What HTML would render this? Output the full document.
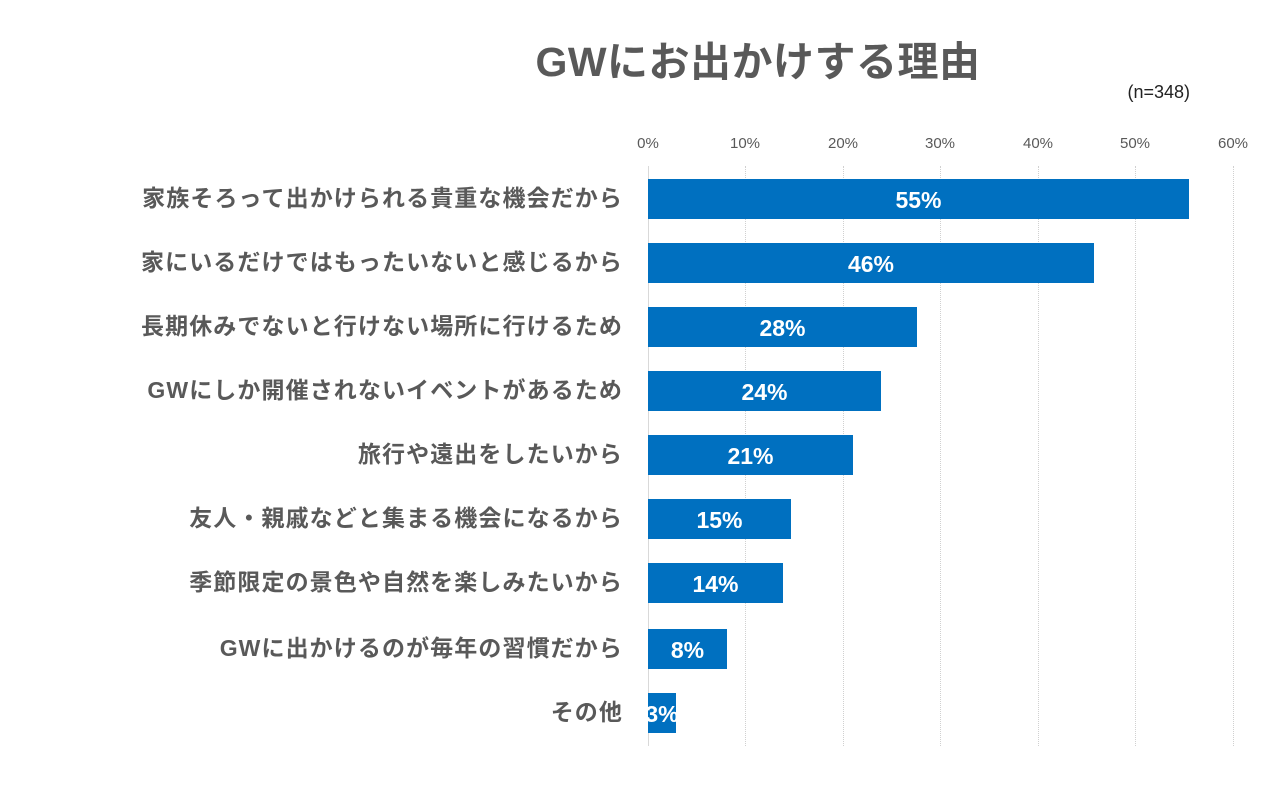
<!DOCTYPE html>
<html><head><meta charset="utf-8"><style>
body{margin:0;width:1280px;height:808px;background:#fff;position:relative;overflow:hidden;font-family:"Liberation Sans","Noto Sans CJK JP",sans-serif;}
.t{position:absolute;left:500px;width:516px;top:28px;text-align:center;font-size:41px;font-weight:bold;color:#595959;letter-spacing:0.5px;}
.n{position:absolute;left:1100px;width:90px;text-align:right;top:82px;font-size:18px;color:#222;}
.tk{position:absolute;top:135px;width:60px;margin-left:-30px;text-align:center;font-size:15px;color:#595959;}
.g{position:absolute;top:166px;height:580px;border-left:1px dotted #d0d0d0;}
.lb{position:absolute;right:657px;font-size:23px;font-weight:bold;color:#595959;white-space:nowrap;line-height:40px;letter-spacing:1.1px;}
.b{position:absolute;left:648px;height:40px;background:#0070C0;overflow:hidden;}
.b span{position:absolute;left:50%;transform:translateX(-50%);color:#fff;font-weight:bold;font-size:23px;line-height:42px;white-space:nowrap;}
</style></head><body>
<div class="t">GWにお出かけする理由</div>
<div class="n">(n=348)</div>
<div class="tk" style="left:648px">0%</div><div class="tk" style="left:745px">10%</div><div class="tk" style="left:843px">20%</div><div class="tk" style="left:940px">30%</div><div class="tk" style="left:1038px">40%</div><div class="tk" style="left:1135px">50%</div><div class="tk" style="left:1233px">60%</div>
<div class="g" style="left:648px;border-left:1px solid #d9d9d9"></div><div class="g" style="left:745px"></div><div class="g" style="left:843px"></div><div class="g" style="left:940px"></div><div class="g" style="left:1038px"></div><div class="g" style="left:1135px"></div><div class="g" style="left:1233px"></div>
<div class="lb" style="top:178px">家族そろって出かけられる貴重な機会だから</div><div class="b" style="top:179px;width:541px"><span>55%</span></div>
<div class="lb" style="top:242px">家にいるだけではもったいないと感じるから</div><div class="b" style="top:243px;width:446px"><span>46%</span></div>
<div class="lb" style="top:306px">長期休みでないと行けない場所に行けるため</div><div class="b" style="top:307px;width:269px"><span>28%</span></div>
<div class="lb" style="top:370px">GWにしか開催されないイベントがあるため</div><div class="b" style="top:371px;width:233px"><span>24%</span></div>
<div class="lb" style="top:434px">旅行や遠出をしたいから</div><div class="b" style="top:435px;width:205px"><span>21%</span></div>
<div class="lb" style="top:498px">友人・親戚などと集まる機会になるから</div><div class="b" style="top:499px;width:143px"><span>15%</span></div>
<div class="lb" style="top:562px">季節限定の景色や自然を楽しみたいから</div><div class="b" style="top:563px;width:135px"><span>14%</span></div>
<div class="lb" style="top:628px">GWに出かけるのが毎年の習慣だから</div><div class="b" style="top:629px;width:79px"><span>8%</span></div>
<div class="lb" style="top:692px">その他</div><div class="b" style="top:693px;width:28px"><span>3%</span></div>
</body></html>
